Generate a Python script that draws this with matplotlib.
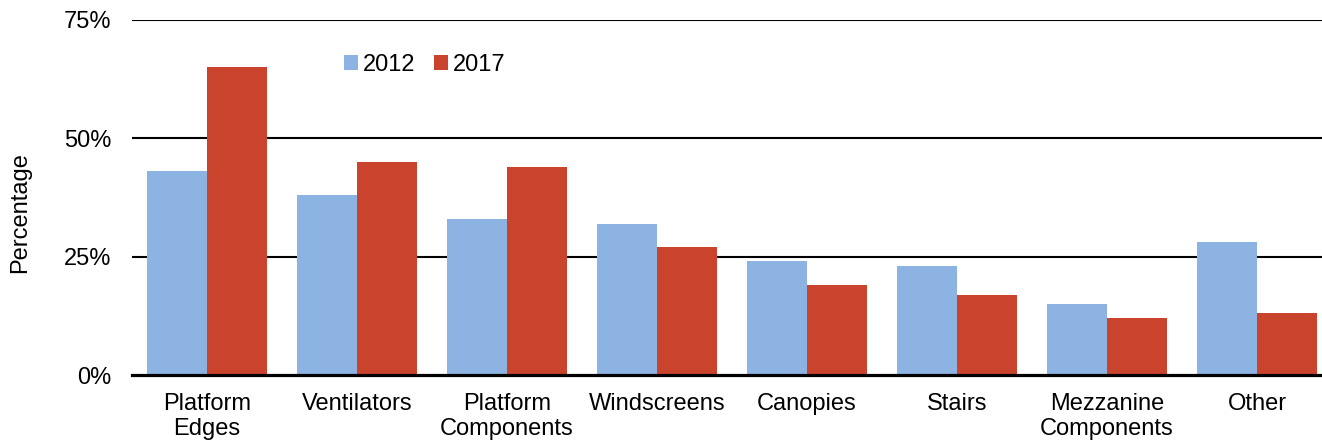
import numpy as np
import matplotlib.pyplot as plt

plt.rcParams['font.family'] = ['Liberation Sans', 'DejaVu Sans']

categories = ['Platform\nEdges', 'Ventilators', 'Platform\nComponents', 'Windscreens',
              'Canopies', 'Stairs', 'Mezzanine\nComponents', 'Other']
vals_2012 = [43, 38, 33, 32, 24, 23, 15, 28]
vals_2017 = [65, 45, 44, 27, 19, 17, 12, 13]

BLUE = '#8DB3E2'
RED = '#C9432D'
FS = 17

fig = plt.figure(figsize=(13.22, 4.42), dpi=100)
ax = fig.add_axes([132/1322, 1-375/442, 1-132/1322, (375-20)/442])

x = np.arange(len(categories))
w = 0.4
ax.bar(x - w/2, vals_2012, w, color=BLUE, label='2012', zorder=3)
ax.bar(x + w/2, vals_2017, w, color=RED, label='2017', zorder=3)

ax.set_xlim(-0.5, 7.5 - 10/150)
ax.set_ylim(0, 75)
ax.set_yticks([0, 25, 50, 75])
ax.set_yticklabels(['0%', '25%', '50%', '75%'])
for v in [25, 50, 75]:
    ax.axhline(v, color='black', lw=1.5, zorder=2)
ax.axhline(0, color='black', lw=2.3, zorder=4, clip_on=False)

for s in ax.spines.values():
    s.set_visible(False)
ax.tick_params(axis='both', length=0, labelsize=FS)
ax.tick_params(axis='y', pad=15)
ax.tick_params(axis='x', pad=13)
ax.set_xticks(x)
ax.set_xticklabels(categories, linespacing=1.15)

fig.text(20/1322, 1-213/442, 'Percentage', rotation=90, ha='center', va='center', fontsize=FS)

ax.legend(loc='center left', bbox_to_anchor=(344/1322, 1-65/442), bbox_transform=fig.transFigure,
          ncol=2, frameon=False, fontsize=FS, handlelength=0.6, handleheight=0.6,
          handletextpad=0.2, columnspacing=0.8, borderpad=0, borderaxespad=0)

fig.savefig('out.png', dpi=100)
